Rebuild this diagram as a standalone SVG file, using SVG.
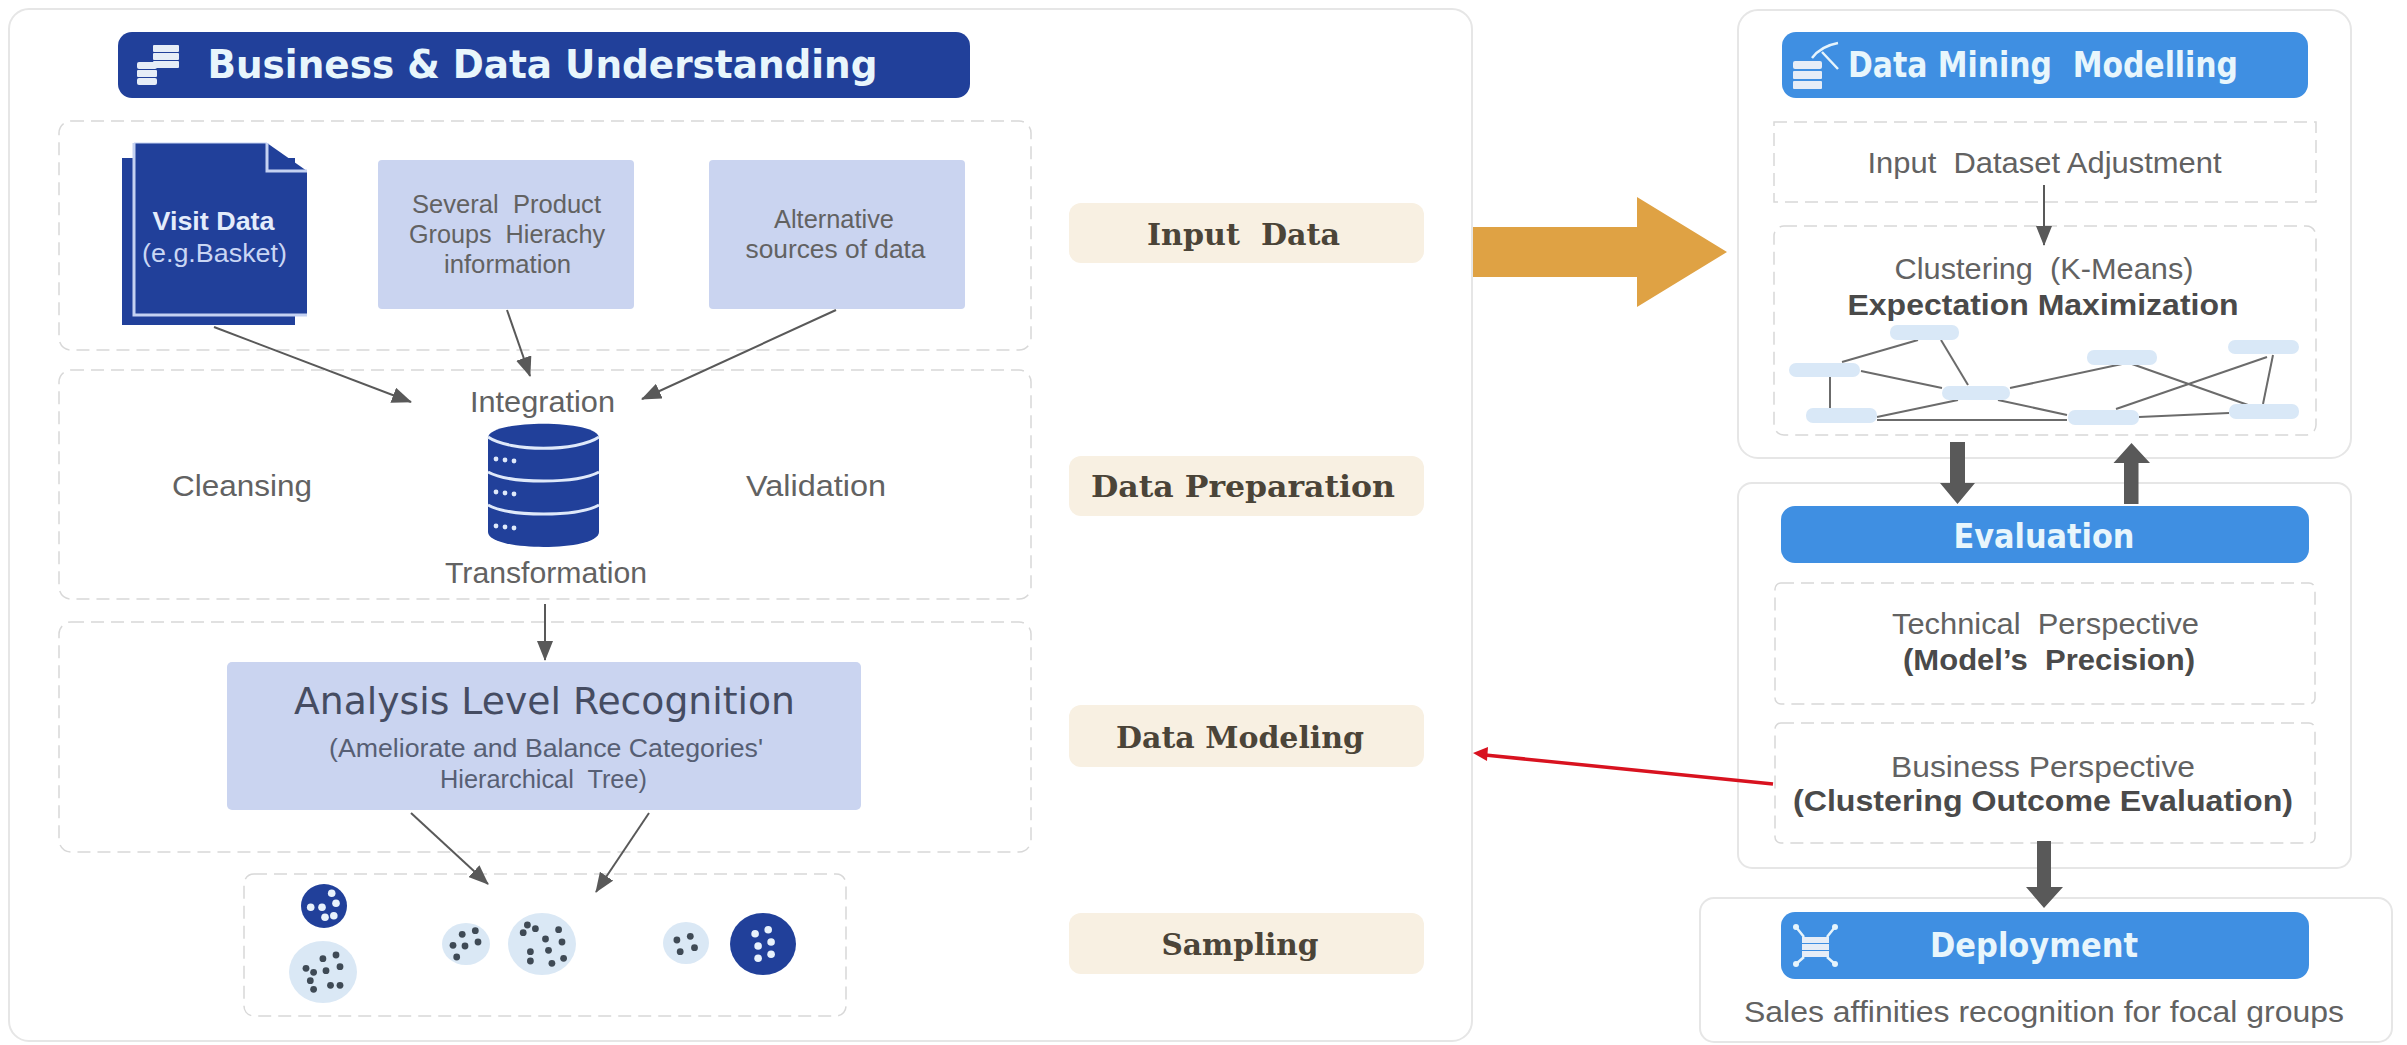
<svg xmlns="http://www.w3.org/2000/svg" width="2407" height="1045" viewBox="0 0 2407 1045">
<defs>
<marker id="ah" markerUnits="userSpaceOnUse" markerWidth="20" markerHeight="16" refX="19" refY="8" orient="auto"><path d="M0 0L20 8L0 16Z" fill="#595959"/></marker>
<g id="slot3"><circle cx="0" cy="0" r="2.400"/><circle cx="9" cy="1" r="2.400"/><circle cx="18" cy="2" r="2.400"/></g>
</defs>
<style>
text{white-space:pre}
.panel{fill:#fff;stroke:#e6e6e6;stroke-width:2}
.dash{fill:#fff;stroke:#d8d8d8;stroke-width:1.500;stroke-dasharray:13 7}
.dark{fill:#21409a}
.blue{fill:#3f8fe2}
.soft{fill:#cad4f0}
.tag{fill:#f8f0e2}
.t{font-family:"Liberation Sans",Arial,sans-serif;fill:#626262;font-size:26px;text-anchor:middle}
.b{font-weight:700;fill:#4a4a4a}
.h{font-family:"DejaVu Sans Condensed","DejaVu Sans",sans-serif;font-weight:700;text-anchor:middle;fill:#e8f6fc;font-size:34px}
.l{font-family:"DejaVu Serif Condensed","DejaVu Serif",serif;font-weight:700;text-anchor:middle;fill:#4b4438;font-size:30px}
.conn{stroke:#595959;stroke-width:2;fill:none}
.thick{fill:#595959}
.net{stroke:#6b6b6b;stroke-width:2;fill:none}
.nn{fill:#d9e8f7}
.c1{fill:#dae8f5}
.c2{fill:#21409a}
.d1 circle{fill:#3f4a55;r:3.400px}
.d2 circle{fill:#e8f2fc;r:3.800px}
.ic{fill:#e6edf7}
.ics{stroke:#e6f4fc;stroke-width:2.500;fill:none}
</style>
<rect width="2407" height="1045" fill="#fff"/>

<g id="panel-business">
<rect class="panel" x="9" y="9" width="1463" height="1032" rx="20"/>
<rect class="dark" x="118" y="32" width="852" height="66" rx="14"/>
<g id="icon-stacks" class="ic">
<rect x="153" y="45" width="26" height="7" rx="1"/><rect x="153" y="53" width="26" height="7" rx="1"/><rect x="153" y="61" width="26" height="7" rx="1"/>
<rect x="137" y="62" width="20" height="7" rx="2"/><rect x="137" y="70" width="20" height="7" rx="1"/><rect x="137" y="78" width="20" height="7" rx="2"/>
</g>
<text class="h" x="542.500" y="78" style="font-size:39px" textLength="670" lengthAdjust="spacingAndGlyphs">Business &amp; Data Understanding</text>
</g>

<g id="group-input">
<rect class="dash" x="59" y="121" width="972" height="229" rx="12"/>
</g>
<g id="node-visit-data">
<rect class="dark" x="122" y="158" width="173" height="167"/>
<path class="dark" d="M134 143H267L307 171V315H134Z"/>
<path d="M134 143V315H307" fill="none" stroke="#c5d2f2" stroke-width="3"/>
<path d="M134 143H267" fill="none" stroke="#c5d2f2" stroke-width="1"/>
<path d="M267 143V171H307" fill="none" stroke="#c5d2f2" stroke-width="3"/>
<text class="t b" x="213.500" y="230" style="fill:#e4ecfb;font-size:25px" textLength="122" lengthAdjust="spacingAndGlyphs">Visit Data</text>
<text class="t" x="214.500" y="262" style="fill:#c9d6f4;font-size:26px" textLength="145" lengthAdjust="spacingAndGlyphs">(e.g.Basket)</text>
</g>
<g id="node-product-groups">
<rect class="soft" x="378" y="160" width="256" height="149" rx="4"/>
<text class="t" x="506.500" y="213" style="font-size:25px" textLength="189" lengthAdjust="spacingAndGlyphs">Several  Product</text>
<text class="t" x="507" y="243" style="font-size:25px" textLength="196" lengthAdjust="spacingAndGlyphs">Groups  Hierachy</text>
<text class="t" x="507.500" y="273" style="font-size:25px" textLength="127" lengthAdjust="spacingAndGlyphs">information</text>
</g>
<g id="node-alternative">
<rect class="soft" x="709" y="160" width="256" height="149" rx="4"/>
<text class="t" x="834" y="228" style="font-size:25px" textLength="120" lengthAdjust="spacingAndGlyphs">Alternative</text>
<text class="t" x="835.500" y="258" style="font-size:25px" textLength="180" lengthAdjust="spacingAndGlyphs">sources of data</text>
</g>

<g id="group-preparation">
<rect class="dash" x="59" y="370" width="972" height="229" rx="12"/>
<text class="t" x="542.500" y="412" style="font-size:30px" textLength="145" lengthAdjust="spacingAndGlyphs">Integration</text>
<text class="t" x="546" y="583" style="font-size:30px" textLength="202" lengthAdjust="spacingAndGlyphs">Transformation</text>
<text class="t" x="242" y="496" style="font-size:30px" textLength="140" lengthAdjust="spacingAndGlyphs">Cleansing</text>
<text class="t" x="816" y="496" style="font-size:30px" textLength="140" lengthAdjust="spacingAndGlyphs">Validation</text>
</g>
<g id="node-database">
<path class="dark" d="M488 438C488 419 599 419 599 438V532C599 552 488 552 488 532Z"/>
<g fill="none" stroke="#dfe9fa" stroke-width="3">
<path d="M488 437C510 452 577 452 599 437"/>
<path d="M488 472C510 484 577 484 599 472"/>
<path d="M488 505C510 517 577 517 599 505"/>
</g>
<g fill="#dfe9fa">
<use href="#slot3" x="496" y="459"/><use href="#slot3" x="496" y="492"/><use href="#slot3" x="496" y="526"/>
</g>
</g>

<g id="group-modeling">
<rect class="dash" x="59" y="622" width="972" height="230" rx="12"/>
</g>
<g id="node-analysis">
<rect class="soft" x="227" y="662" width="634" height="148" rx="5"/>
<text class="t" x="544.500" y="714" style="font-family:'DejaVu Sans',sans-serif;font-size:38px;fill:#454c62" textLength="501" lengthAdjust="spacingAndGlyphs">Analysis Level Recognition</text>
<text class="t" x="546" y="757" style="font-size:25px;fill:#575f74" textLength="434" lengthAdjust="spacingAndGlyphs">(Ameliorate and Balance Categories'</text>
<text class="t" x="543.500" y="788" style="font-size:25px;fill:#575f74" textLength="207" lengthAdjust="spacingAndGlyphs">Hierarchical  Tree)</text>
</g>

<g id="group-sampling">
<rect class="dash" x="244" y="874" width="602" height="142" rx="10"/>
<ellipse class="c2" cx="324" cy="906" rx="23" ry="22"/>
<ellipse class="c1" cx="323" cy="972" rx="34" ry="31"/>
<ellipse class="c1" cx="466" cy="944" rx="24" ry="21"/>
<ellipse class="c1" cx="542" cy="944" rx="34" ry="31"/>
<ellipse class="c1" cx="686" cy="943" rx="23" ry="21"/>
<ellipse class="c2" cx="763" cy="944" rx="33" ry="31"/>
<g class="d2"><circle cx="331.700" cy="893.300"/><circle cx="336" cy="903.300"/><circle cx="310.700" cy="907.300"/><circle cx="322" cy="907.300"/><circle cx="325" cy="917.300"/><circle cx="333.800" cy="915.700"/></g>
<g class="d1"><circle cx="322.900" cy="958.700"/><circle cx="336" cy="955"/><circle cx="306" cy="968.300"/><circle cx="313.600" cy="972.300"/><circle cx="326" cy="970.700"/><circle cx="340" cy="966.700"/><circle cx="310.300" cy="980.700"/><circle cx="313.600" cy="989.300"/><circle cx="330.500" cy="985.300"/><circle cx="340" cy="985.300"/></g>
<g class="d1"><circle cx="462.200" cy="934.300"/><circle cx="475.300" cy="930.700"/><circle cx="453" cy="945.300"/><circle cx="465" cy="946"/><circle cx="478" cy="942"/><circle cx="456.700" cy="957"/></g>
<g class="d1"><circle cx="527.400" cy="925"/><circle cx="535.400" cy="928.700"/><circle cx="523.200" cy="932.700"/><circle cx="558.600" cy="929.700"/><circle cx="545.500" cy="939"/><circle cx="562" cy="942"/><circle cx="530.400" cy="951.700"/><circle cx="548.500" cy="950.300"/><circle cx="530.400" cy="961"/><circle cx="551.900" cy="963.300"/><circle cx="563.600" cy="958.300"/></g>
<g class="d1"><circle cx="676.900" cy="940"/><circle cx="690.300" cy="936.300"/><circle cx="694.500" cy="947.700"/><circle cx="680.200" cy="951.700"/></g>
<g class="d2"><circle cx="755.100" cy="933.700"/><circle cx="768.200" cy="929.700"/><circle cx="771.100" cy="942"/><circle cx="758.100" cy="946"/><circle cx="771.100" cy="954.300"/><circle cx="758.100" cy="958.300"/></g>
</g>

<g id="label-input"><rect class="tag" x="1069" y="203" width="355" height="60" rx="12"/><text class="l" x="1243.500" y="245" textLength="193" lengthAdjust="spacingAndGlyphs">Input  Data</text></g>
<g id="label-preparation"><rect class="tag" x="1069" y="456" width="355" height="60" rx="12"/><text class="l" x="1243" y="497" textLength="304" lengthAdjust="spacingAndGlyphs">Data Preparation</text></g>
<g id="label-modeling"><rect class="tag" x="1069" y="705" width="355" height="62" rx="12"/><text class="l" x="1240" y="748" textLength="248" lengthAdjust="spacingAndGlyphs">Data Modeling</text></g>
<g id="label-sampling"><rect class="tag" x="1069" y="913" width="355" height="61" rx="12"/><text class="l" x="1240" y="955" textLength="157" lengthAdjust="spacingAndGlyphs">Sampling</text></g>

<g id="panel-mining">
<rect class="panel" x="1738" y="10" width="613" height="448" rx="20"/>
<rect class="blue" x="1782" y="32" width="526" height="66" rx="14"/>
<g id="icon-pick">
<g class="ic"><rect x="1793" y="61" width="29" height="8" rx="2"/><rect x="1793" y="71" width="29" height="8" rx="1"/><rect x="1793" y="81" width="29" height="8" rx="1"/></g>
<path class="ics" d="M1822 52L1838 69M1812 58C1818 50 1827 45 1838 43"/>
</g>
<text class="h" x="2043" y="77" style="font-size:35px" textLength="390" lengthAdjust="spacingAndGlyphs">Data Mining  Modelling</text>
<rect class="dash" x="1774" y="122" width="542" height="80"/>
<text class="t" x="2044.500" y="173" style="font-size:30px" textLength="354" lengthAdjust="spacingAndGlyphs">Input  Dataset Adjustment</text>
<rect class="dash" x="1774" y="226" width="542" height="209" rx="10"/>
<text class="t" x="2044" y="279" style="font-size:30px" textLength="299" lengthAdjust="spacingAndGlyphs">Clustering  (K-Means)</text>
<text class="t b" x="2043" y="315" style="font-size:30px" textLength="391" lengthAdjust="spacingAndGlyphs">Expectation Maximization</text>
</g>

<g id="network">
<g class="net">
<path d="M1842 362L1918 340"/><path d="M1941 340L1968 385"/><path d="M1861 371L1942 388"/><path d="M1830 377V408"/>
<path d="M1877 417L1958 400"/><path d="M1877 420H2067"/><path d="M1998 400L2067 415"/><path d="M2010 388L2122 364"/>
<path d="M2132 364L2248 405"/><path d="M2116 409L2267 357"/><path d="M2273 355L2263 404"/><path d="M2139 417L2229 413"/>
</g>
<rect class="nn" x="1890" y="325" width="69" height="15" rx="7"/>
<rect class="nn" x="1789" y="363" width="71" height="14" rx="7"/>
<rect class="nn" x="1942" y="386" width="68" height="14" rx="7"/>
<rect class="nn" x="2087" y="350" width="70" height="15" rx="7"/>
<rect class="nn" x="2228" y="340" width="71" height="14" rx="7"/>
<rect class="nn" x="1806" y="408" width="71" height="15" rx="7"/>
<rect class="nn" x="2068" y="410" width="71" height="15" rx="7"/>
<rect class="nn" x="2229" y="404" width="70" height="15" rx="7"/>
</g>

<g id="panel-evaluation">
<rect class="panel" x="1738" y="483" width="613" height="385" rx="14"/>
<rect class="blue" x="1781" y="506" width="528" height="57" rx="14"/>
<text class="h" x="2044" y="548" style="font-size:33px" textLength="181" lengthAdjust="spacingAndGlyphs">Evaluation</text>
<rect class="dash" x="1775" y="583" width="540" height="121" rx="6"/>
<text class="t" x="2045.500" y="634" style="font-size:30px" textLength="307" lengthAdjust="spacingAndGlyphs">Technical  Perspective</text>
<text class="t b" x="2049" y="670" style="font-size:30px" textLength="292" lengthAdjust="spacingAndGlyphs">(Model’s  Precision)</text>
<rect class="dash" x="1775" y="723" width="540" height="120" rx="6"/>
<text class="t" x="2043" y="777" style="font-size:30px" textLength="304" lengthAdjust="spacingAndGlyphs">Business Perspective</text>
<text class="t b" x="2043" y="811" style="font-size:29px" textLength="500" lengthAdjust="spacingAndGlyphs">(Clustering Outcome Evaluation)</text>
</g>

<g id="panel-deployment">
<rect class="panel" x="1700" y="898" width="692" height="144" rx="14"/>
<rect class="blue" x="1781" y="912" width="528" height="67" rx="14"/>
<g id="icon-deploy">
<g class="ic"><rect x="1802" y="937" width="27" height="6"/><rect x="1802" y="944" width="27" height="6"/><rect x="1802" y="951" width="27" height="6"/></g>
<path class="ics" d="M1796 927L1804 937M1835 927L1827 937M1796 964L1804 957M1835 964L1827 957"/>
<g fill="#e6f4fc"><circle cx="1796" cy="927" r="3"/><circle cx="1835" cy="927" r="3"/><circle cx="1796" cy="964" r="3"/><circle cx="1835" cy="964" r="3"/></g>
</g>
<text class="h" x="2034" y="957" style="font-size:33px" textLength="208" lengthAdjust="spacingAndGlyphs">Deployment</text>
<text class="t" x="2044" y="1022" style="font-size:30px" textLength="600" lengthAdjust="spacingAndGlyphs">Sales affinities recognition for focal groups</text>
</g>

<g id="connectors">
<path class="conn" marker-end="url(#ah)" d="M214 327L411 402"/>
<path class="conn" marker-end="url(#ah)" d="M507 310L530 376"/>
<path class="conn" marker-end="url(#ah)" d="M836 310L642 399"/>
<path class="conn" marker-end="url(#ah)" d="M545 604V660"/>
<path class="conn" marker-end="url(#ah)" d="M411 813L488 884"/>
<path class="conn" marker-end="url(#ah)" d="M649 813L596 892"/>
<path class="conn" marker-end="url(#ah)" d="M2044 185V245"/>
<path d="M1473 227H1637V197L1727 252L1637 307V277H1473Z" fill="#dfa244"/>
<path class="thick" d="M1950 442H1965V483H1975L1957.500 504L1940 483H1950Z"/>
<path class="thick" d="M2124 504V463H2113.500L2131.500 443L2150 463H2138.500V504Z"/>
<path class="thick" d="M2037 841H2051V887H2063L2044 908L2026 887H2037Z"/>
<path d="M1773 784L1485 755" stroke="#d8121f" stroke-width="3.500" fill="none"/>
<path d="M1473 753L1488 747L1487 761Z" fill="#d8121f"/>
</g>
</svg>
